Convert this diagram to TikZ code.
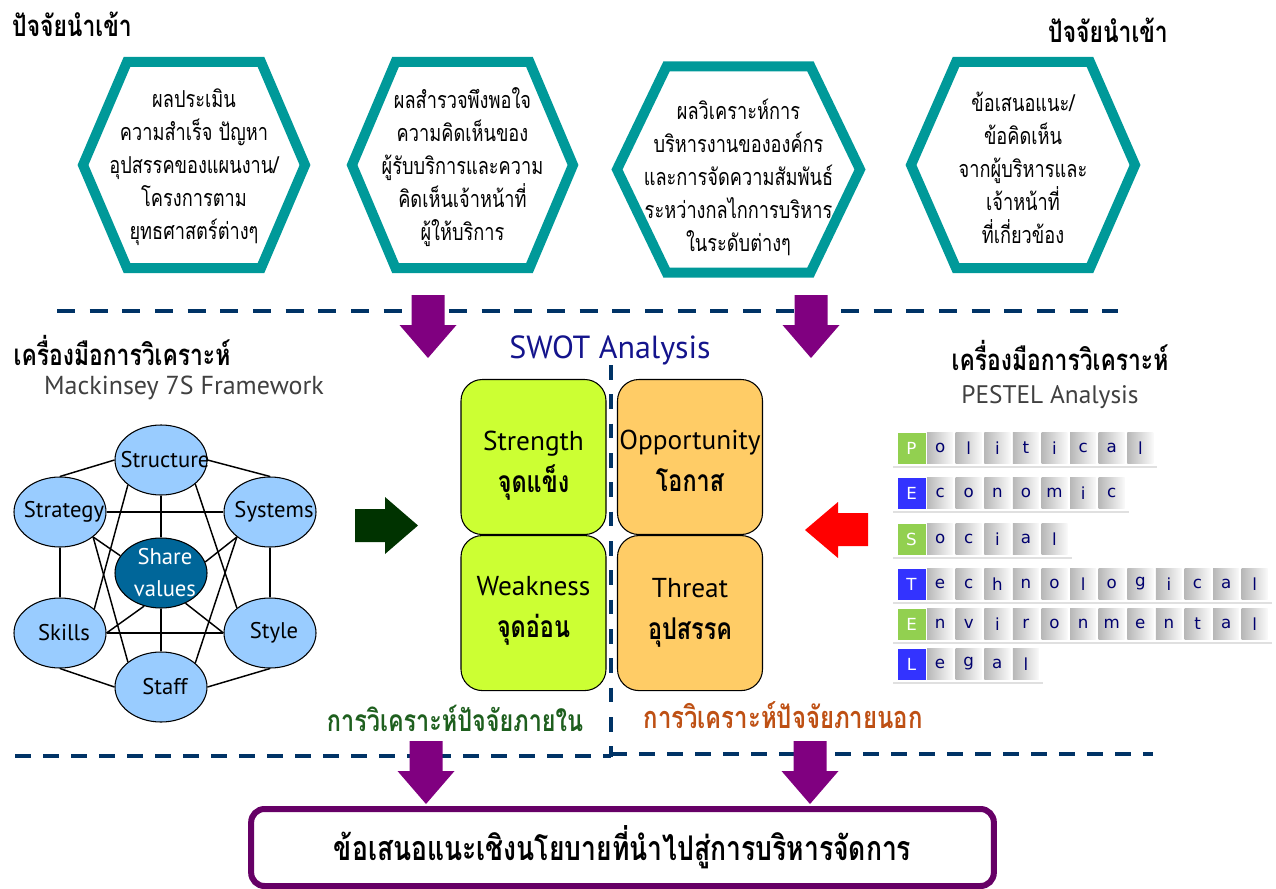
\documentclass[tikz,border=0pt]{standalone}
\usepackage{fontspec}
\setmainfont{PT Sans}
\newfontfamily\thai[Script=Thai,FakeStretch=0.78]{Loma}
\newfontfamily\pestel{DejaVu Sans}
\usetikzlibrary{positioning,shapes.geometric,calc}

\definecolor{teal1}{RGB}{0,153,153}
\definecolor{purp}{RGB}{128,0,128}
\definecolor{boxpurp}{RGB}{102,0,102}
\definecolor{navydash}{RGB}{0,51,102}
\definecolor{swotblue}{RGB}{20,20,140}
\definecolor{lime}{RGB}{204,255,51}
\definecolor{peach}{RGB}{255,204,102}
\definecolor{sky}{RGB}{153,204,255}
\definecolor{deepsea}{RGB}{0,102,153}
\definecolor{darkgreen}{RGB}{0,51,0}
\definecolor{ingreen}{RGB}{30,95,30}
\definecolor{outbrown}{RGB}{190,80,20}
\definecolor{pgreen}{RGB}{146,208,80}
\definecolor{pblue}{RGB}{51,51,255}
\definecolor{letterblue}{RGB}{0,0,110}

\newcommand{\hexa}[4]{\draw[hexline] (#1-#3,#2) -- (#1-#4,#2-103) -- (#1+#4,#2-103) -- (#1+#3,#2) -- (#1+#4,#2+103) -- (#1-#4,#2+103) -- cycle;}
\newcommand{\downblock}[3]{\fill[purp] (#1-16.5,#2) -- (#1+16.5,#2) -- (#1+16.5,#3-33) -- (#1+28.5,#3-33) -- (#1,#3) -- (#1-28.5,#3-33) -- (#1-16.5,#3-33) -- cycle;}
\newcommand{\swotth}[1]{{\thai\bfseries\fontsize{22.5}{31.5}\selectfont #1}}

\tikzset{
  hexline/.style={draw=teal1, line width=7.5pt},
  hextext/.style={align=center, font=\thai\fontsize{17.5}{24.75}\selectfont},
  thaihead/.style={font=\thai\bfseries\fontsize{22}{24}\selectfont},
  toolhead/.style={font=\thai\bfseries\fontsize{22}{24}\selectfont},
  sev/.style={ellipse, draw, line width=0.8pt, fill=sky, minimum width=69pt, minimum height=52.5pt, inner sep=0pt},
  sevtext/.style={font=\fontsize{17}{19}\selectfont, xshift=3pt},
  sevline/.style={line width=1.1pt},
  swot/.style={draw, line width=0.8pt, rounded corners=16pt, minimum width=108.75pt, minimum height=116.25pt, inner sep=0pt},
  swottext/.style={align=center, inner sep=0pt, font=\fontsize{20.5}{31.5}\selectfont},
  dashline/.style={draw=navydash, line width=3pt, dash pattern=on 13.5pt off 11pt},
  pestsq/.style={minimum width=19.5pt, minimum height=23.25pt, inner sep=0pt, font=\pestel\fontsize{12.5}{12.5}\selectfont},
}

\begin{document}
\begin{tikzpicture}[x=0.75pt, y=-0.75pt]
\useasboundingbox (0,0) rectangle (1276,888);

\node[thaihead] (in1) at (72,24) {ปัจจัยนำเข้า};
\node[thaihead] (in2) at (1108,30) {ปัจจัยนำเข้า};

\hexa{194}{165}{111}{67}
\hexa{462.5}{165}{110.5}{67}
\hexa{738.5}{169.5}{121.5}{72}
\hexa{1023}{165}{112}{67}

\node[hextext] (h1) at (194,167) {ผลประเมิน\\ความสำเร็จ ปัญหา\\อุปสรรคของแผนงาน/\\โครงการตาม\\ยุทธศาสตร์ต่างๆ};
\node[hextext] (h2) at (462.5,167) {ผลสำรวจพึงพอใจ\\ความคิดเห็นของ\\ผู้รับบริการและความ\\คิดเห็นเจ้าหน้าที่\\ผู้ให้บริการ};
\node[hextext] (h3) at (738.5,177) {ผลวิเคราะห์การ\\บริหารงานขององค์กร\\และการจัดความสัมพันธ์\\ระหว่างกลไกการบริหาร\\ในระดับต่างๆ};
\node[hextext] (h4) at (1023,168) {ข้อเสนอแนะ/\\ข้อคิดเห็น\\จากผู้บริหารและ\\เจ้าหน้าที่\\ที่เกี่ยวข้อง};

\draw[dashline] (57,311) -- (1118,311);
\downblock{428}{295}{358}
\downblock{811}{295}{358}

\node[toolhead] (tool1) at (122,350) {เครื่องมือการวิเคราะห์};
\node[text=black!75, font=\fontsize{19.5}{22}\selectfont] (mck) at (184,388) {Mackinsey 7S Framework};
\node[toolhead] (tool2) at (1060,355) {เครื่องมือการวิเคราะห์};
\node[text=black!75, font=\fontsize{19}{22}\selectfont] (pst) at (1050,397) {PESTEL Analysis};
\node[text=swotblue, font=\fontsize{24}{26}\selectfont] (swt) at (610,350) {SWOT Analysis};

\node[sev, label={[sevtext]center:Structure}] (str) at (161,460) {};
\node[sev, label={[sevtext]center:Strategy}] (stg) at (60,512) {};
\node[sev, label={[sevtext]center:Systems}] (sys) at (270,512) {};
\node[sev, fill=deepsea, label={[sevtext, text=white, align=center, font=\fontsize{17}{24}\selectfont]center:Share\\values}] (shv) at (161,573) {};
\node[sev, label={[sevtext]center:Skills}] (skl) at (60,633) {};
\node[sev, label={[sevtext]center:Style}] (sty) at (270,633) {};
\node[sev, label={[sevtext]center:Staff}] (stf) at (161,687) {};

\draw[sevline] (str.west) -- (stg.north);
\draw[sevline] (str.east) -- (sys.north);
\draw[sevline] (stg.east) -- (sys.west);
\draw[sevline] (skl.east) -- (sty.west);
\draw[sevline] (stg.south) -- (skl.north);
\draw[sevline] (sys.south) -- (sty.north);
\draw[sevline] (skl.south) -- (stf.west);
\draw[sevline] (sty.south) -- (stf.east);
\draw[sevline] (str.south) -- (shv.north);
\draw[sevline] (shv.south) -- (stf.north);
\draw[sevline] (str.217) -- (skl.35);
\draw[sevline] (str.-35) -- (sty.143);
\draw[sevline] (stg.-37) -- (stf.143);
\draw[sevline] (sys.217) -- (stf.35);
\draw[sevline] (stg.-37) -- (shv.157);
\draw[sevline] (sys.217) -- (shv.14);
\draw[sevline] (skl.east) -- (shv.243);
\draw[sevline] (sty.west) -- (shv.309);

\fill[darkgreen] (355,509) -- (385,509) -- (385,497) -- (418,525.5) -- (385,554) -- (385,542) -- (355,542) -- cycle;
\fill[red] (868,513) -- (838,513) -- (838,502) -- (805,530) -- (838,558) -- (838,546) -- (868,546) -- cycle;

\node[swot, fill=lime, label={[swottext, yshift=-6.5pt]center:Strength\\\swotth{จุดแข็ง}}] (strength) at (533.5,457) {};
\node[swot, fill=lime, below=0pt of strength, label={[swottext, yshift=2pt]center:Weakness\\\swotth{จุดอ่อน}}] (weakness) {};
\node[swot, fill=peach, label={[swottext, yshift=-3pt]center:Opportunity\\\swotth{โอกาส}}] (opport) at (690,457) {};
\node[swot, fill=peach, below=0pt of opport, label={[swottext]center:Threat\\\swotth{อุปสรรค}}] (threat) {};

\draw[navydash, line width=2.5pt, dash pattern=on 11pt off 11pt] (611,365) -- (611,757);

\foreach \word/\col/\yy/\n in {{P,o,l,i,t,i,c,a,l}/pgreen/448/9, {E,c,o,n,o,m,i,c}/pblue/493/8, {S,o,c,i,a,l}/pgreen/539/6, {T,e,c,h,n,o,l,o,g,i,c,a,l}/pblue/584/13, {E,n,v,i,r,o,n,m,e,n,t,a,l}/pgreen/624/13, {L,e,g,a,l}/pblue/664/5}{
  \draw[black!12, line width=1.5pt] (893,\yy+19) -- (900+28.6*\n,\yy+19);
  \foreach \ch [count=\i from 0] in \word {
    \ifnum\i=0
      \node[pestsq, minimum width=21pt, fill=\col, text=white] (pe\yy-\i) at (911.5+28.6*\i,\yy) {\ch};
    \else
      \node[pestsq, left color=black!28, right color=black!2, text=letterblue] (pe\yy-\i) at (911.5+28.6*\i,\yy) {\ch};
    \fi
  }
}

\node[text=ingreen, font=\thai\bfseries\fontsize{22.5}{24}\selectfont] (inner) at (455,718) {การวิเคราะห์ปัจจัยภายใน};
\node[text=outbrown, font=\thai\bfseries\fontsize{23}{24}\selectfont] (outer) at (783,715) {การวิเคราะห์ปัจจัยภายนอก};

\draw[navydash, line width=3pt, dash pattern=on 12pt off 9pt] (15,756) -- (611,756);
\draw[navydash, line width=3pt, dash pattern=on 12pt off 9pt] (611,754) -- (1153,754);

\downblock{426}{741}{804}
\downblock{810}{741}{804}

\node[draw=boxpurp, line width=4.5pt, rounded corners=10pt, fill=white, minimum width=557pt, minimum height=57.75pt, font=\thai\bfseries\fontsize{25.5}{28}\selectfont] (policy) at (622.5,847.5) {ข้อเสนอแนะเชิงนโยบายที่นำไปสู่การบริหารจัดการ};

\end{tikzpicture}
\end{document}
